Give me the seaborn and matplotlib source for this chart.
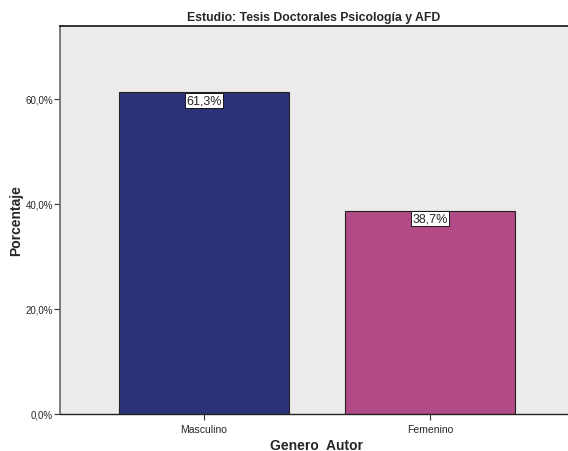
import matplotlib
matplotlib.use("Agg")
import matplotlib.pyplot as plt
import seaborn as sns
import pandas as pd

categories = ["Masculino", "Femenino"]
percentages = [61.3, 38.7]
bar_colors = ["#2b3276", "#b14a85"]
yticks = [0, 20, 40, 60]

sns.set_style("white")
plt.rcParams['font.family'] = ['Liberation Sans', 'DejaVu Sans']

df = pd.DataFrame({"Genero": categories, "Porcentaje": percentages})

fig = plt.figure(figsize=(5.68, 4.52), dpi=100)
ax = fig.add_axes([60 / 568, 1 - 415 / 452, 1 - 60 / 568, 388 / 452])
ax.set_facecolor("#ebebeb")

sns.barplot(data=df, x="Genero", y="Porcentaje", hue="Genero", palette=bar_colors,
            saturation=1, width=0.752, edgecolor="#222222", linewidth=0.8, legend=False, ax=ax)

for i, v in enumerate(percentages):
    ax.text(i, v - 0.4, f"{v:.1f}%".replace(".", ","), ha="center", va="top", fontsize=9,
            bbox=dict(boxstyle="square,pad=0.12", facecolor="white", edgecolor="black", linewidth=0.6))

ax.set_xlim(-0.637, 1.61)
ax.set_ylim(0, 73.9)
ax.set_yticks(yticks)
ax.set_yticklabels([f"{t:.1f}%".replace(".", ",") for t in yticks], fontsize=7)
ax.tick_params(axis="x", labelsize=7.5, length=4, width=0.8, color="#333333", direction="out", bottom=True)
ax.tick_params(axis="y", length=4, width=0.8, pad=1, color="#333333", direction="out", left=True)

ax.spines["right"].set_visible(False)
ax.spines["top"].set_color("#111111")
ax.spines["top"].set_linewidth(1.2)
ax.spines["left"].set_color("#666666")
ax.spines["left"].set_linewidth(1.2)
ax.spines["bottom"].set_color("#222222")
ax.spines["bottom"].set_linewidth(1.0)

ax.set_xlabel("Genero  Autor", fontsize=10, fontweight="bold", va="center")
ax.xaxis.set_label_coords(0.504, -0.08)
ax.set_ylabel("Porcentaje", fontsize=10, fontweight="bold", va="center")
ax.yaxis.set_label_coords(-0.086, 0.5)
ax.set_title("Estudio: Tesis Doctorales Psicología y AFD", fontsize=8.8, fontweight="bold", pad=4)

fig.savefig("out.png", dpi=100)
plt.close()
